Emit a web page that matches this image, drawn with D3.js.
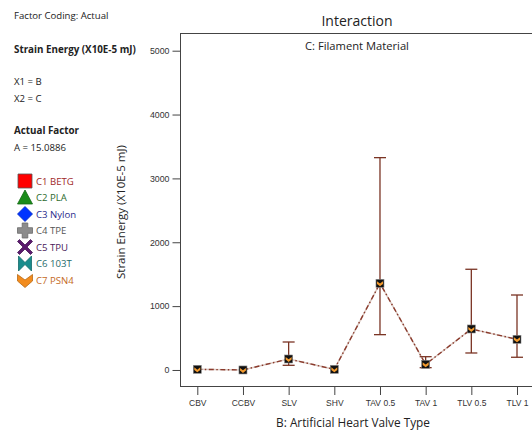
<!DOCTYPE html>
<html>
<head>
<meta charset="utf-8">
<script src="https://cdn.jsdelivr.net/npm/d3@7"></script>
<style>
  body { margin: 0; background: #fff; }
  svg { font-family: "Open Sans", "Noto Sans", sans-serif; }
</style>
</head>
<body>
<script>
// valve types on the x axis
const valveTypes = ["CBV", "CCBV", "SLV", "SHV", "TAV 0.5", "TAV 1", "TLV 0.5", "TLV 1"];
// predicted strain energy for C7 PSN4
const means = [10, 0, 172, 10, 1357, 89, 642, 480];
const lowerCI = [10, 0, 73, 10, 553, 36, 266, 199];
const upperCI = [10, 0, 438, 10, 3325, 208, 1577, 1174];
const yTicks = [0, 1000, 2000, 3000, 4000, 5000];

const legendNames = ["C1 BETG", "C2 PLA", "C3 Nylon", "C4 TPE", "C5 TPU", "C6 103T", "C7 PSN4"];
const legendFill = ["#ff0000", "#1a8c1a", "#0033ff", "#8c8c8c", "#5a1a6e", "#1a8c8c", "#f28c1e"];
const legendText = ["#a02828", "#2e6b2e", "#2a2a8c", "#555555", "#4a1a5a", "#1f6b6b", "#c46a1e"];

const width = 532, height = 441;
const svg = d3.select("body").append("svg")
  .attr("width", width)
  .attr("height", height);

const x = d3.scalePoint().domain(valveTypes).range([197.3, 517]);
const y = d3.scaleLinear().domain([-262, 5277]).range([386.7, 33]);

// frame (right side runs off the picture)
svg.append("rect")
  .attr("x", 180.5).attr("y", 33.5)
  .attr("width", 400).attr("height", 353)
  .attr("fill", "none").attr("stroke", "#444").attr("stroke-width", 1);

// y axis
const yAxis = svg.append("g").attr("transform", "translate(180.5,0)")
  .call(d3.axisLeft(y).tickValues(yTicks).tickSize(8).tickPadding(3).tickFormat(d3.format("d")));
yAxis.select(".domain").remove();
yAxis.selectAll("line").attr("stroke", "#444");
yAxis.selectAll("text").attr("font-size", 8.8).attr("fill", "#333");

// x axis
const xAxis = svg.append("g").attr("transform", "translate(0,387)")
  .call(d3.axisBottom(x).tickSize(8).tickPadding(5));
xAxis.select(".domain").remove();
xAxis.selectAll("line").attr("stroke", "#444");
xAxis.selectAll("text").attr("font-size", 8.5).attr("fill", "#333");

// titles
svg.append("text").attr("x", 357).attr("y", 26).attr("text-anchor", "middle")
  .attr("font-size", 14).attr("fill", "#222").text("Interaction");
svg.append("text").attr("x", 357).attr("y", 50).attr("text-anchor", "middle")
  .attr("font-size", 11.2).attr("fill", "#222").text("C: Filament Material");
svg.append("text").attr("x", 353).attr("y", 427).attr("text-anchor", "middle")
  .attr("font-size", 11.8).attr("fill", "#222").text("B: Artificial Heart Valve Type");
svg.append("text").attr("transform", "translate(125,212) rotate(-90)")
  .attr("text-anchor", "middle").attr("font-size", 11.5).attr("fill", "#222")
  .text("Strain Energy (X10E-5 mJ)");

// left side info text
const info = [
  { t: "Factor Coding: Actual", y: 19, bold: false },
  { t: "Strain Energy (X10E-5 mJ)", y: 53, bold: true },
  { t: "X1 = B", y: 85, bold: false },
  { t: "X2 = C", y: 102, bold: false },
  { t: "Actual Factor", y: 134, bold: true },
  { t: "A = 15.0886", y: 151, bold: false }
];
svg.selectAll("text.info").data(info).enter().append("text")
  .attr("class", "info")
  .attr("x", 14).attr("y", d => d.y)
  .attr("font-size", d => d.bold ? 9.8 : 9.6)
  .attr("font-weight", d => d.bold ? "bold" : "normal")
  .attr("fill", "#222")
  .text(d => d.t);

// legend
const legend = svg.selectAll("g.leg").data(legendNames).enter().append("g")
  .attr("class", "leg")
  .attr("transform", (d, i) => `translate(25,${181 + i * 16.5})`);

const shapes = [
  "M-7,-7H7V7H-7Z",
  "M0,-7.5L7.5,6.5H-7.5Z",
  "M0,-7.5L7.5,0L0,7.5L-7.5,0Z",
  "M-2.8,-7.5H2.8V-2.8H7.5V2.8H2.8V7.5H-2.8V2.8H-7.5V-2.8H-2.8Z",
  "M-7.5,-5.5L-5.5,-7.5L0,-2L5.5,-7.5L7.5,-5.5L2,0L7.5,5.5L5.5,7.5L0,2L-5.5,7.5L-7.5,5.5L-2,0Z",
  "M-6.5,-7.5L0,-1L6.5,-7.5V7.5L0,1L-6.5,7.5Z",
  "M-7.5,-5.5L0,0L7.5,-5.5V1L0,7.5L-7.5,1Z"
];
legend.append("path")
  .attr("d", (d, i) => shapes[i])
  .attr("fill", (d, i) => legendFill[i])
  .attr("stroke", (d, i) => i === 0 ? "#555" : d3.color(legendFill[i]).darker(0.8))
  .attr("stroke-width", 0.8);
legend.append("text")
  .attr("x", 11).attr("y", 3.5)
  .attr("font-size", 9.6)
  .attr("fill", (d, i) => legendText[i])
  .text(d => d);

// connecting line: light underlay + dash-dot brown
const line = d3.line().x((d, i) => x(valveTypes[i])).y(d => y(d));
svg.append("path").datum(means)
  .attr("d", line).attr("fill", "none")
  .attr("stroke", "#dccbc4").attr("stroke-width", 1.5);
svg.append("path").datum(means)
  .attr("d", line).attr("fill", "none")
  .attr("stroke", "#8a3a2c").attr("stroke-width", 1.4)
  .attr("stroke-dasharray", "5,2.5,1.5,2.5");

// error bars
const eb = svg.selectAll("g.eb").data(valveTypes).enter().append("g").attr("class", "eb")
  .filter((d, i) => upperCI[i] - lowerCI[i] > 20);
eb.append("line")
  .attr("x1", d => x(d)).attr("x2", d => x(d))
  .attr("y1", (d) => y(upperCI[valveTypes.indexOf(d)]))
  .attr("y2", (d) => y(lowerCI[valveTypes.indexOf(d)]))
  .attr("stroke", "#7a3424").attr("stroke-width", 1.3);
eb.selectAll("line.cap")
  .data(d => [upperCI[valveTypes.indexOf(d)], lowerCI[valveTypes.indexOf(d)]].map(v => ({ k: d, v })))
  .enter().append("line").attr("class", "cap")
  .attr("x1", d => x(d.k) - 6).attr("x2", d => x(d.k) + 6)
  .attr("y1", d => y(d.v)).attr("y2", d => y(d.v))
  .attr("stroke", "#7a3424").attr("stroke-width", 1.3);

// markers
const mk = svg.selectAll("g.mk").data(means).enter().append("g").attr("class", "mk")
  .attr("transform", (d, i) => `translate(${x(valveTypes[i])},${y(d)})`);
mk.append("rect").attr("x", -4).attr("y", -4).attr("width", 8).attr("height", 8)
  .attr("fill", "#111").attr("stroke", "#888").attr("stroke-width", 0.6);
mk.append("path").attr("d", "M-3,-2L0,0.3L3,-2V0.6L0,3L-3,0.6Z")
  .attr("fill", "#f29a2e");
</script>
</body>
</html>
